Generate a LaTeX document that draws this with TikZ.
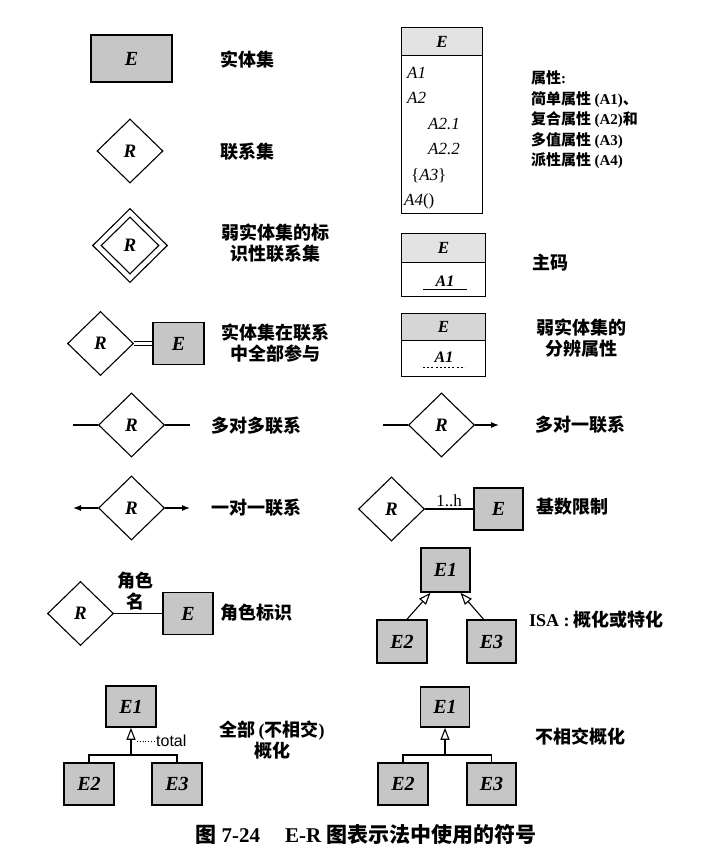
\documentclass[tikz,border=0pt]{standalone}
\usepackage{fontspec}
\setmainfont{Liberation Serif}
\newfontfamily\cjk{Noto Sans CJK SC}
\newfontfamily\sansf{Liberation Sans}
\usetikzlibrary{shapes.geometric,arrows.meta,calc}
\newcommand\latn[1]{{\rmfamily #1}}

\begin{document}
\begin{tikzpicture}[x=1pt,y=-1pt,
  ent/.style={draw, line width=1.6pt, fill=gray!45, inner sep=0pt,
    minimum width=50pt, minimum height=42pt,
    font=\bfseries\itshape\fontsize{20}{20}\selectfont},
  hdr/.style={draw, line width=1.2pt, fill=gray!22, inner sep=0pt, anchor=north west,
    minimum width=84pt, font=\bfseries\itshape\fontsize{17}{17}\selectfont},
  frame/.style={draw, line width=1.2pt, inner sep=0pt, anchor=north west, minimum width=84pt},
  rel/.style={draw, diamond, line width=1.1pt, inner sep=0pt, fill=white,
    minimum width=66pt, minimum height=64pt,
    font=\bfseries\itshape\fontsize{19}{19}\selectfont},
  attr/.style={inner sep=0pt, anchor=base west, font=\itshape\fontsize{17}{17}\selectfont},
  key/.style={inner sep=0pt, anchor=base, font=\bfseries\itshape\fontsize{16}{16}\selectfont},
  lbl/.style={inner sep=0pt, anchor=west, align=left,
    font=\cjk\bfseries\fontsize{18}{21}\selectfont},
  lblc/.style={inner sep=0pt, align=center,
    font=\cjk\bfseries\fontsize{18}{20.5}\selectfont},
  conn/.style={line width=1.1pt},
  isa/.style={line width=1.1pt, -{Triangle[open, length=12pt, width=9pt, line width=1.1pt]}},
  solid arrow/.style={line width=1.1pt, -{Latex[length=8pt, width=6pt]}}
]
\useasboundingbox (0,0) rectangle (709,852);

% ---------------- left column ----------------
% entity set
\node[ent, minimum width=81pt, minimum height=47pt] (es) at (131.5,58.5) {E};
\node[lbl] (les) at (220,60) {实体集};

% relationship set
\node[rel] (rs) at (130,151) {R};
\node[lbl] (lrs) at (220,152) {联系集};

% identifying relationship set
\node[rel, minimum width=75pt, minimum height=74pt] (idout) at (130,245.5) {};
\node[rel, minimum width=58pt, minimum height=57pt] (idin) at (130,245.5) {R};
\node[lblc] (lid) at (275,243) {弱实体集的标\\识性联系集};

% total participation
\node[rel] (tpr) at (100.5,343.5) {R};
\node[ent, minimum width=51pt] (tpe) at (178.5,343.5) {E};
\draw[double, double distance=3pt, line width=1pt] (tpr.east) -- (tpe.west);
\node[lblc] (ltp) at (275,343) {实体集在联系\\中全部参与};

% many-to-many
\node[rel] (mm) at (131.5,425) {R};
\coordinate (mmL) at (73,425);
\coordinate (mmR) at (190,425);
\draw[conn] (mmL) -- (mm.west);
\draw[conn] (mm.east) -- (mmR);
\node[lbl] (lmm) at (211,426) {多对多联系};

% one-to-one
\node[rel] (oo) at (131.5,508) {R};
\coordinate (ooL) at (73,508);
\coordinate (ooR) at (190,508);
\draw[solid arrow] (oo.west) -- (ooL);
\draw[solid arrow] (oo.east) -- (ooR);
\node[lbl] (loo) at (211,508) {一对一联系};

% role indicator
\node[rel] (ro) at (80.5,613.5) {R};
\node[ent] (roe) at (188,613.5) {E};
\draw[conn] (ro.east) -- (roe.west);
\node[lblc] (rname) at (135,591) {角色\\名};
\node[lbl] (lro) at (220,613) {角色标识};

% total (disjoint) generalization
\node[ent, minimum height=41pt] (tg1) at (131,706.5) {E1};
\node[ent] (tg2) at (89,784) {E2};
\node[ent] (tg3) at (177,784) {E3};
\coordinate (tgj) at (131,755);
\draw[conn] (tg2.north) |- (tgj);
\draw[conn] (tg3.north) |- (tgj);
\draw[isa] (tgj) -- (tg1.south);
\node[inner sep=0pt, anchor=west, font=\sansf\fontsize{16}{16}\selectfont] (tot) at (156,741) {total};
\coordinate (totL) at (137,741);
\draw[dotted, line width=0.8pt] (totL) -- (tot.west);
\node[lblc] (ltg) at (272,740) {全部\,\latn{(}不相交\latn{)}\\概化};

% ---------------- right column ----------------
% attributes
\node[frame, minimum width=81pt, minimum height=186pt] (ab) at (401,27) {};
\node[hdr, minimum width=81pt, minimum height=28pt] (abh) at (401,27) {E};
\node[attr] (a1) at (407,78) {A1};
\node[attr] (a2) at (407,103.5) {A2};
\node[attr] (a21) at (428,129) {A2.1};
\node[attr] (a22) at (428,154.5) {A2.2};
\node[attr] (a3) at (411,180) {\upshape\{\itshape A3\upshape\}};
\node[attr] (a4) at (404,205.5) {A4\upshape()};
\node[inner sep=0pt, anchor=west, align=left, font=\cjk\bfseries\fontsize{15}{20.5}\selectfont] (lab) at (531,120)
  {属性\latn{:}\\简单属性 \latn{(A1)}、\\复合属性 \latn{(A2)}和\\多值属性 \latn{(A3)}\\派性属性 \latn{(A4)}};

% primary key
\node[frame, minimum height=63pt] (pkb) at (401,233) {};
\node[hdr, minimum height=29pt] (pkh) at (401,233) {E};
\node[key] (pk) at (445,286) {A1};
\draw[line width=1pt] ($(pk.base)+(-22,3)$) -- ($(pk.base)+(22,3)$);
\node[lbl] (lpk) at (532,263) {主码};

% discriminator of a weak entity set
\node[frame, minimum height=63pt] (dkb) at (401,313) {};
\node[hdr, minimum height=27pt, fill=gray!32] (dkh) at (401,313) {E};
\node[key] (dk) at (444,362) {A1};
\draw[line width=1pt, dash pattern=on 2pt off 2.2pt] ($(dk.base)+(-21,5)$) -- ($(dk.base)+(21,5)$);
\node[lblc] (ldk) at (581,338) {弱实体集的\\分辨属性};

% many-to-one
\node[rel] (mo) at (441.5,425) {R};
\coordinate (moL) at (383,425);
\coordinate (moR) at (499,425);
\draw[conn] (moL) -- (mo.west);
\draw[solid arrow] (mo.east) -- (moR);
\node[lbl] (lmo) at (535,425) {多对一联系};

% cardinality limits
\node[rel] (cl) at (391.5,509) {R};
\node[ent, minimum width=49pt] (cle) at (498.5,509) {E};
\draw[conn] (cl.east) -- node[above=1.5pt, inner sep=0pt, font=\fontsize{17}{17}\selectfont] (clh) {1..h} (cle.west);
\node[lbl] (lcl) at (536,507) {基数限制};

% ISA
\node[ent, minimum width=49pt, minimum height=44pt] (is1) at (445.5,570) {E1};
\node[ent, minimum height=43pt] (is2) at (402,641.5) {E2};
\node[ent, minimum width=49pt, minimum height=43pt] (is3) at (491.5,641.5) {E3};
\draw[isa] ([xshift=5pt]is2.north) -- ([xshift=-15pt]is1.south);
\draw[isa] ([xshift=-8pt]is3.north) -- ([xshift=15pt]is1.south);
\node[lbl] (lis) at (529,620) {\latn{ISA :} 概化或特化};

% disjoint generalization
\node[ent, minimum width=49pt, minimum height=40pt] (dg1) at (445,707) {E1};
\node[ent] (dg2) at (403,784) {E2};
\node[ent, minimum width=49pt] (dg3) at (491.5,784) {E3};
\coordinate (dgj) at (445,755);
\draw[conn] (dg2.north) |- (dgj);
\draw[conn] (dg3.north) |- (dgj);
\draw[isa] (dgj) -- (dg1.south);
\node[lbl] (ldg) at (535,737) {不相交概化};

% caption
\node[inner sep=0pt, font=\cjk\bfseries\fontsize{21}{21}\selectfont] (cap) at (366,835)
  {图 \latn{7-24}\hspace{25pt}\latn{E-R} 图表示法中使用的符号};
\end{tikzpicture}
\end{document}
